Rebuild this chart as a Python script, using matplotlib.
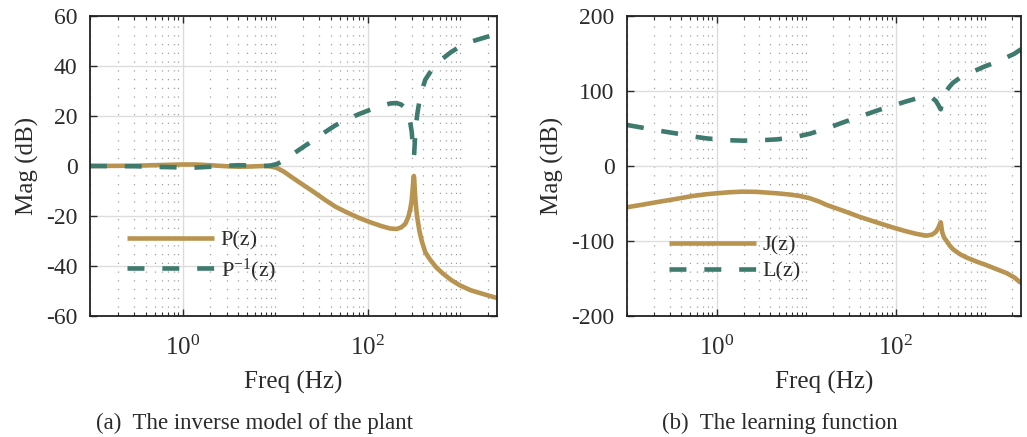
import numpy as np
import matplotlib
matplotlib.use("Agg")
import matplotlib.pyplot as plt
from matplotlib.ticker import FixedLocator, NullFormatter

plt.rcParams['font.family'] = ['Liberation Serif', 'DejaVu Serif']
plt.rcParams['mathtext.fontset'] = 'custom'
plt.rcParams['mathtext.rm'] = 'Liberation Serif'
plt.rcParams['mathtext.it'] = 'Liberation Serif:italic'
plt.rcParams['axes.unicode_minus'] = False

TAN = '#b89450'
TEAL = '#3e7b6e'
TXT = '#2b2b2b'

# (a) plant P(z) and its inverse model
freq_a = [0.1, 0.3, 0.6, 1.0, 1.4, 2.0, 3.0, 4.0, 5.5, 7.5, 9.0, 10.5, 12.5, 15.6, 20,
          26, 34.5, 45, 60, 80, 105, 140, 175, 205, 230, 255, 275, 290, 300, 307,
          312, 316, 319, 323, 328, 335, 345, 363, 385, 420, 470, 550, 650, 800,
          1000, 1300, 1700, 2100, 2500]
P_db = [0, 0.1, 0.4, 0.6, 0.6, 0.3, -0.1, -0.3, -0.2, 0, -0.2, -0.8, -2.3, -4.8, -7.5,
        -10.3, -13.5, -16.3, -18.6, -20.7, -22.4, -24.0, -25.0, -25.2, -24.6, -23.2,
        -20.5, -17, -13.6, -9, -5.5, -4, -5, -9, -13, -17, -21, -26, -30, -34.5,
        -37.3, -40.5, -43, -45.6, -47.8, -49.7, -51, -52, -52.8]
Pinv_db = [0, -0.1, -0.4, -0.6, -0.6, -0.3, 0.1, 0.3, 0.2, 0, 0.2, 0.8, 2.3, 4.8, 7.5,
           10.3, 13.5, 16.3, 18.6, 20.7, 22.4, 24.0, 25.0, 25.2, 24.6, 23.2,
           20.5, 17, 13.6, 9, 5.5, 4, 5, 9, 13, 17, 21, 26, 30, 34.5,
           37.3, 40.5, 43, 45.6, 47.8, 49.7, 51, 52, 52.8]

# (b) learning function
freq_b = [0.1, 0.15, 0.23, 0.35, 0.54, 0.75, 1.0, 1.4, 1.95, 2.8, 4.7, 6.5, 8.5, 11,
          14, 17, 25, 40, 66, 93, 130, 170, 220, 255, 282, 300, 312, 318, 323, 330,
          345, 365, 400, 436, 520, 616, 800, 1020, 1300, 1740, 2100, 2500]
J_db = [-55, -51.5, -47.6, -44, -40, -37.8, -36.4, -35, -34.2, -34.5, -36.4, -38, -40,
        -43, -47.5, -52, -59, -68, -76.4, -82, -87, -90.5, -92.9, -91.5, -87.6, -82,
        -77, -75, -80, -88, -95, -99, -106, -111, -117.5, -122, -127.5, -132, -137,
        -143, -148.5, -156]
L_db = [54.7, 51, 47, 43.5, 39.5, 37, 35.5, 34.3, 33.8, 34, 35.5, 37.5, 40, 43,
        47, 50, 57.5, 66, 75, 80.5, 86, 90, 92.4, 91, 86.5, 81, 77, 75.6, 80, 88,
        95, 99.5, 106, 111, 117.5, 122, 128, 133.5, 138, 145, 149.5, 155.6]

xmajor = [1, 100]
xminor = [m * 10.0 ** e for e in range(-1, 4) for m in range(1, 10)
          if m * 10.0 ** e not in xmajor and m * 10.0 ** e <= 2500]

fig = plt.figure(figsize=(10.27, 4.37), dpi=100)
ax1 = fig.add_axes([0.0876, 0.2769, 0.3963, 0.6865])
ax2 = fig.add_axes([0.6105, 0.2769, 0.3836, 0.6865])


def style(ax, ylim, yticks):
    ax.set_xscale('log')
    ax.set_xlim(0.1, 2500)
    ax.set_ylim(*ylim)
    ax.set_yticks(yticks)
    ax.xaxis.set_major_locator(FixedLocator(xmajor))
    ax.xaxis.set_minor_locator(FixedLocator(xminor))
    ax.xaxis.set_minor_formatter(NullFormatter())
    ax.set_xticklabels(['$10^0$', '$10^2$'])
    ax.grid(True, which='major', color='#dddddd', lw=1.0, ls='-')
    ax.grid(True, which='minor', axis='x', color='#a0a0a0', lw=0.9, ls=(0, (1, 6)))
    ax.set_axisbelow(True)
    ax.tick_params(which='both', direction='in', top=True, right=True, colors=TXT)
    ax.tick_params(axis='y', pad=9, labelsize=17)
    ax.tick_params(axis='x', pad=14, labelsize=18)
    ax.tick_params(which='major', length=5, width=1)
    ax.tick_params(which='minor', length=3, width=0.8)
    for s in ax.spines.values():
        s.set_color('#222222')
        s.set_linewidth(1.3)
    ax.set_xlabel('Freq (Hz)', fontsize=18, color=TXT, labelpad=8)
    ax.set_ylabel('Mag (dB)', fontsize=18, color=TXT, labelpad=5)


dash = (0, (3.7, 3.9))
ax1.plot(freq_a, P_db, color=TAN, lw=3.3, label='P(z)', solid_capstyle='butt')
ax1.plot(freq_a, Pinv_db, color=TEAL, lw=3.3, ls=dash, label='P$^{-1}$(z)',
         dash_capstyle='butt')
style(ax1, (-60, 60), [-60, -40, -20, 0, 20, 40, 60])
ax1.legend(loc='upper left', bbox_to_anchor=(0.07, 0.315), frameon=False, fontsize=16,
           handlelength=3.9, handletextpad=0.3, labelspacing=0.25, borderaxespad=0,
           labelcolor=TXT)

ax2.plot(freq_b, J_db, color=TAN, lw=3.3, label='J(z)', solid_capstyle='butt')
ax2.plot(freq_b, L_db, color=TEAL, lw=3.3, ls=dash, label='L(z)',
         dash_capstyle='butt')
style(ax2, (-200, 200), [-200, -100, 0, 100, 200])
ax2.legend(loc='upper left', bbox_to_anchor=(0.085, 0.30), frameon=False, fontsize=16,
           handlelength=3.9, handletextpad=0.3, labelspacing=0.25, borderaxespad=0,
           labelcolor=TXT)

fig.text(255 / 1027, 1 - 423 / 437, '(a)  The inverse model of the plant', fontsize=16.5,
         ha='center', va='center', color=TXT)
fig.text(780 / 1027, 1 - 423 / 437, '(b)  The learning function', fontsize=16.5,
         ha='center', va='center', color=TXT)

fig.savefig('out.png', dpi=100)
